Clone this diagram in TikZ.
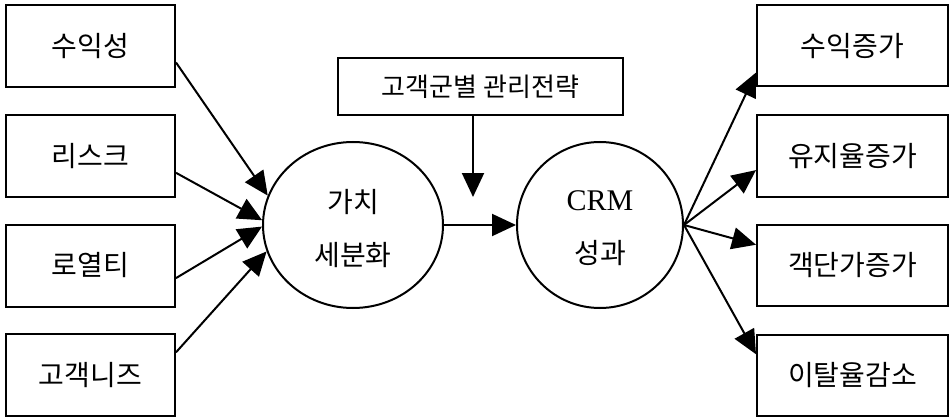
\documentclass[tikz,border=0pt]{standalone}
\usepackage{fontspec}
\setmainfont{Liberation Serif}
\newfontfamily\cjk{Noto Sans CJK KR}
\usetikzlibrary{arrows.meta,shapes.geometric,calc}
\begin{document}
\begin{tikzpicture}[x=1pt,y=-1pt,
  box/.style={draw,line width=2pt,inner sep=0pt,font=\cjk\fontsize{28}{32}\selectfont},
  lbox/.style={box,minimum width=169pt,minimum height=82pt},
  rbox/.style={box,minimum width=191pt,minimum height=81pt},
  blob/.style={draw,ellipse,line width=2pt,inner sep=0pt},
  blobtext/.style={align=center,inner sep=0pt,font=\fontsize{30}{53}\selectfont},
  conn/.style={line width=2pt,-{Triangle[length=24pt,width=22pt]}}]
\useasboundingbox (0,0) rectangle (950,417);
% left boxes
\node[lbox] (l1) at (90.5,46.5) {수익성};
\node[lbox] (l2) at (90.5,156) {리스크};
\node[lbox] (l3) at (90.5,265.5) {로열티};
\node[lbox] (l4) at (90.5,375) {고객니즈};
% right boxes
\node[rbox] (r1) at (852.5,46) {수익증가};
\node[rbox] (r2) at (852.5,156) {유지율증가};
\node[rbox] (r3) at (852.5,265.5) {객단가증가};
\node[rbox] (r4) at (852.5,375) {이탈율감소};
% top box
\node[box,minimum width=285pt,minimum height=57pt,font=\cjk\fontsize{26}{30}\selectfont] (top) at (480.5,86.5) {고객군별 관리전략};
% circles
\node[blob,minimum width=180pt,minimum height=166pt] (v) at (353,225) {};
\node[blobtext,yshift=-4pt] (vt) at (v.center) {{\cjk\fontsize{28}{53}\selectfont 가치}\\{\cjk\fontsize{28}{53}\selectfont 세분화}};
\node[blob,minimum width=166pt,minimum height=166pt] (c) at (600,225) {};
\node[blobtext,yshift=-3pt] (ct) at (c.center) {CRM\\{\cjk\fontsize{28}{53}\selectfont 성과}};
% connectors
\draw[conn] ($(l1.north east)!0.69!(l1.south east)$) -- (v.161);
\draw[conn] ($(l2.north east)!0.70!(l2.south east)$) -- (v.177);
\draw[conn] ($(l3.north east)!0.65!(l3.south east)$) -- (v.181);
\draw[conn] ($(l4.north east)!0.23!(l4.south east)$) -- (v.197);
\draw[conn] (v.east) -- (c.west);
\coordinate (dn) at (473,197);
\draw[conn] (dn |- top.south) -- (dn);
\draw[conn] (c.east) -- ($(r1.north west)!0.82!(r1.south west)$);
\draw[conn] (c.east) -- ($(r2.north west)!0.67!(r2.south west)$);
\draw[conn] (c.east) -- ($(r3.north west)!0.25!(r3.south west)$);
\draw[conn] (c.east) -- ($(r4.north west)!0.25!(r4.south west)$);
\end{tikzpicture}
\end{document}
